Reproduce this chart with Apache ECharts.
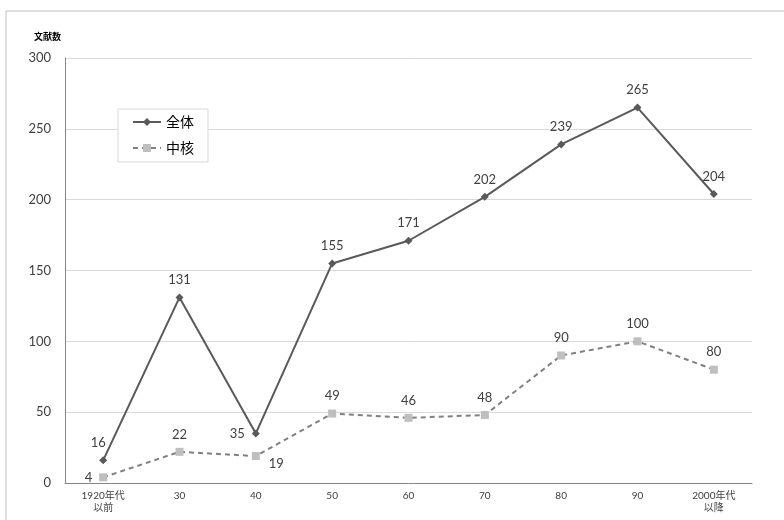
<!DOCTYPE html>
<html><head><meta charset="utf-8">
<script src="https://cdn.jsdelivr.net/npm/echarts@6/dist/echarts.min.js"></script>
<style>html,body{margin:0;padding:0;background:#fff}#c{width:784px;height:520px}</style>
</head><body><div id="c"></div>
<script>
const categories = ['1920年代\n以前','30','40','50','60','70','80','90','2000年代\n以降'];
const totalValues = [16,131,35,155,171,202,239,265,204];
const coreValues = [4,22,19,49,46,48,90,100,80];
const totalLabelPos = ['top','top','left','top','top','top','top','top','top'];
const coreLabelPos = ['left','top','right','top','top','top','top','top','top'];
const totalLabelShift = [[-5,0],null,null,null,null,null,null,null,null];
const coreLabelShift = [null,null,[2,8],null,null,null,null,null,null];
const yTicks = [0,50,100,150,200,250,300];

const FONT = "Lato, 'Noto Sans CJK JP', sans-serif";
const chart = echarts.init(document.getElementById('c'));
const lab = (pos, shift) => {
  const o = {show:true, position:pos, color:'#404040', fontSize:13, fontFamily:FONT, distance:7};
  if (shift) o.offset = shift;
  return o;
};
chart.setOption({
  animation:false,
  textStyle:{fontFamily:FONT},
  graphic:[
    {type:'rect', shape:{x:6,y:11,width:800,height:540}, style:{fill:'none', stroke:'#bfbfbf', lineWidth:1}, silent:true},
    {type:'text', left:34, top:32, style:{text:'文献数', font:"bold 9px 'Noto Sans CJK JP'", fill:'#000'}}
  ],
  legend:{
    orient:'vertical', left:118, top:109, padding:[6,14,7,14], itemGap:12,
    backgroundColor:'#fff', borderColor:'#d9d9d9', borderWidth:1,
    itemWidth:28, itemHeight:10,
    textStyle:{fontSize:14, color:'#000', fontFamily:"'Noto Sans CJK JP'"},
    data:['全体','中核']
  },
  grid:{left:65, right:32, top:58, bottom:37},
  xAxis:{
    type:'category', data:categories, boundaryGap:true,
    axisLine:{lineStyle:{color:'#868686'}}, axisTick:{show:false},
    axisLabel:{fontSize:10, color:'#404040', lineHeight:12, margin:7, fontFamily:FONT, interval:0}
  },
  yAxis:{
    type:'value', min:yTicks[0], max:yTicks[yTicks.length-1], interval:50,
    axisLine:{show:true, lineStyle:{color:'#868686'}}, axisTick:{show:false},
    splitLine:{lineStyle:{color:'#d9d9d9'}},
    axisLabel:{fontSize:13, color:'#404040', margin:14, fontFamily:FONT}
  },
  series:[
    {name:'全体', type:'line', symbol:'diamond', symbolSize:8,
     lineStyle:{color:'#595959', width:2}, itemStyle:{color:'#595959'},
     data: totalValues.map((v,i)=>({value:v, label:lab(totalLabelPos[i], totalLabelShift[i])})),
     label:{show:true}},
    {name:'中核', type:'line', symbol:'rect', symbolSize:8,
     lineStyle:{color:'#808080', width:2, type:[5,4]}, itemStyle:{color:'#bfbfbf'},
     data: coreValues.map((v,i)=>({value:v, label:lab(coreLabelPos[i], coreLabelShift[i])})),
     label:{show:true}}
  ]
});
</script></body></html>
